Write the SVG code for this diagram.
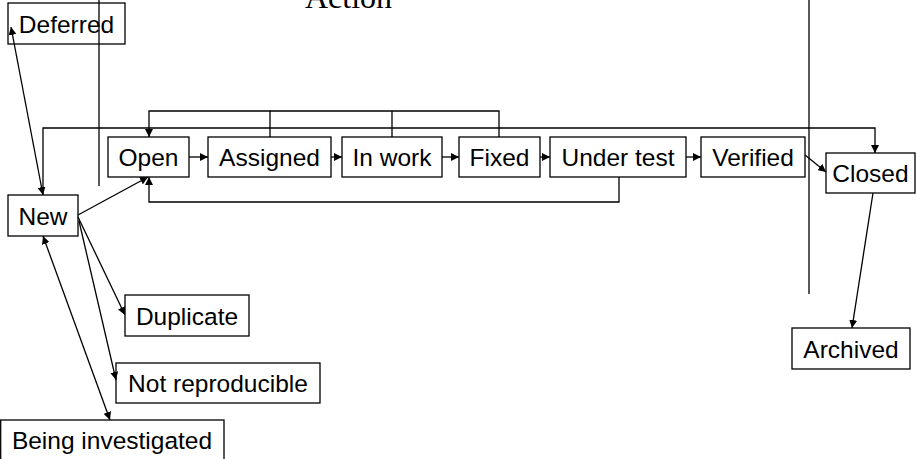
<svg xmlns="http://www.w3.org/2000/svg" width="916" height="459" viewBox="0 0 916 459">
  <style>
    .box rect { fill: #fff; stroke: #000; stroke-width: 1.3; }
    .box text { font-family: "Liberation Sans", Arial, sans-serif; font-size: 24.5px; fill: #000; text-anchor: middle; }
    .edge { fill: none; stroke: #000; stroke-width: 1.3; }
    .lane { stroke: #000; stroke-width: 1.3; }
    .title { font-family: "Liberation Serif", "Times New Roman", serif; font-size: 32px; fill: #000; }
  </style>
  <defs>
    <marker id="arrow" viewBox="0 0 10 10" refX="10" refY="5" markerWidth="8" markerHeight="8" markerUnits="userSpaceOnUse" orient="auto-start-reverse">
      <path d="M0,0 L10,5 L0,10 z" fill="#000"/>
    </marker>
  </defs>

  <rect width="916" height="459" fill="#fff"/>

  <!-- states -->
  <g id="deferred" class="box"><rect x="8" y="3" width="117" height="41"/><text x="66.5" y="33">Deferred</text></g>
  <g id="new" class="box"><rect x="8" y="195" width="70" height="41"/><text x="43" y="224.5">New</text></g>
  <g id="open" class="box"><rect x="108" y="137" width="81" height="40"/><text x="148.5" y="166">Open</text></g>
  <g id="assigned" class="box"><rect x="208" y="137" width="123" height="40"/><text x="269.5" y="166">Assigned</text></g>
  <g id="in-work" class="box"><rect x="342" y="137" width="100" height="40"/><text x="392" y="166">In work</text></g>
  <g id="fixed" class="box"><rect x="459" y="137" width="81" height="40"/><text x="499.5" y="166">Fixed</text></g>
  <g id="under-test" class="box"><rect x="550" y="137" width="136" height="40"/><text x="618" y="166">Under test</text></g>
  <g id="verified" class="box"><rect x="701" y="137" width="104" height="40"/><text x="753" y="166">Verified</text></g>
  <g id="closed" class="box"><rect x="826" y="153" width="89" height="40"/><text x="870.5" y="182">Closed</text></g>
  <g id="archived" class="box"><rect x="792" y="328" width="118" height="41"/><text x="851" y="357.5">Archived</text></g>
  <g id="duplicate" class="box"><rect x="125" y="295" width="124" height="41"/><text x="187" y="324.5">Duplicate</text></g>
  <g id="not-reproducible" class="box"><rect x="116" y="363" width="204" height="40"/><text x="218" y="392">Not reproducible</text></g>
  <g id="being-investigated" class="box"><rect x="0.7" y="420" width="223.3" height="40"/><text x="112" y="449">Being investigated</text></g>

  <!-- swimlane separators and heading -->
  <g id="lanes">
    <line class="lane" x1="99" y1="0" x2="99" y2="186"/>
    <line class="lane" x1="809" y1="0" x2="809" y2="294"/>
    <text class="title" x="305" y="8">Action</text>
  </g>

  <!-- connectors -->
  <g id="connectors">
    <!-- main flow -->
    <line class="edge" x1="189" y1="157" x2="208" y2="157" marker-end="url(#arrow)"/>
    <line class="edge" x1="331" y1="157" x2="342" y2="157" marker-end="url(#arrow)"/>
    <line class="edge" x1="442" y1="157" x2="459" y2="157" marker-end="url(#arrow)"/>
    <line class="edge" x1="540" y1="157" x2="550" y2="157" marker-end="url(#arrow)"/>
    <line class="edge" x1="686" y1="157" x2="701" y2="157" marker-end="url(#arrow)"/>
    <line class="edge" x1="805" y1="155" x2="826" y2="172" marker-end="url(#arrow)"/>
    <line class="edge" x1="873" y1="193" x2="852" y2="328" marker-end="url(#arrow)"/>

    <!-- back to Open from Assigned / In work / Fixed -->
    <path class="edge" d="M270,137 V111 H149 V137" marker-end="url(#arrow)"/>
    <path class="edge" d="M499,137 V111 H270"/>
    <path class="edge" d="M392,137 V111"/>

    <!-- Under test back to Open -->
    <path class="edge" d="M619,177 V202 H149 V177" marker-end="url(#arrow)"/>

    <!-- New straight to Closed -->
    <path class="edge" d="M43,195 V128 H875 V153" marker-end="url(#arrow)"/>

    <!-- New to Open -->
    <line class="edge" x1="78" y1="215" x2="148" y2="177" marker-end="url(#arrow)"/>

    <!-- New and Deferred -->
    <line class="edge" x1="11" y1="27" x2="43" y2="195" marker-start="url(#arrow)" marker-end="url(#arrow)"/>

    <!-- New outcomes -->
    <line class="edge" x1="78" y1="217" x2="125" y2="315" marker-end="url(#arrow)"/>
    <line class="edge" x1="79" y1="221" x2="116" y2="380" marker-end="url(#arrow)"/>
    <line class="edge" x1="43" y1="236" x2="110" y2="420" marker-start="url(#arrow)" marker-end="url(#arrow)"/>
  </g>
</svg>
